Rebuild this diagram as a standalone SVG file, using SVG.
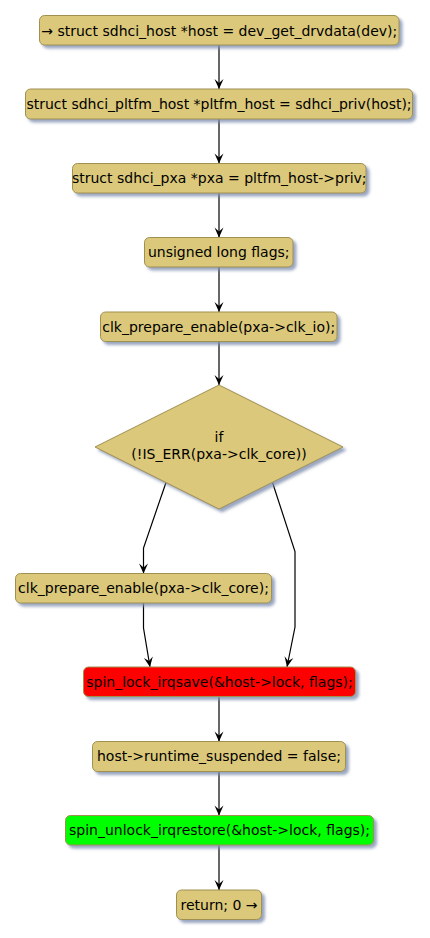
<svg xmlns="http://www.w3.org/2000/svg" width="430" height="938" viewBox="0 0 430 938">
<style>
.box{fill:#DBC87A;stroke:#A0904F;stroke-width:1;filter:url(#sh)}
.red{fill:#FF0000}
.green{fill:#00FF00}
.t{font-family:"DejaVu Sans",sans-serif;font-size:14px;fill:#000;text-anchor:middle}
.ln{fill:none;stroke:#000;stroke-width:1.2}
</style>
<defs>
<filter id="sh" x="-10%" y="-30%" width="125%" height="170%">
<feGaussianBlur in="SourceAlpha" stdDeviation="1.5" result="b"/>
<feOffset in="b" dx="3" dy="3" result="o"/>
<feFlood flood-color="#8090B0" flood-opacity="0.8"/>
<feComposite in2="o" operator="in" result="s"/>
<feMerge><feMergeNode in="s"/><feMergeNode in="SourceGraphic"/></feMerge>
</filter>
<marker id="ah" markerUnits="userSpaceOnUse" markerWidth="12" markerHeight="12" viewBox="-11 -6 12 12" refX="0" refY="0" orient="auto">
<path d="M0,0 L-10,-4.5 L-6,0 L-10,4.5 Z" fill="#000"/>
</marker>
</defs>
<g id="connectors">
<line class="ln" x1="219" y1="45" x2="219" y2="89" marker-end="url(#ah)"/>
<line class="ln" x1="219" y1="119" x2="219" y2="163.5" marker-end="url(#ah)"/>
<line class="ln" x1="219" y1="193" x2="219" y2="237.5" marker-end="url(#ah)"/>
<line class="ln" x1="219" y1="267" x2="219" y2="312" marker-end="url(#ah)"/>
<line class="ln" x1="219" y1="341.5" x2="219" y2="385" marker-end="url(#ah)"/>
<polyline class="ln" points="166,482.5 143.5,548 143.5,573.5" marker-end="url(#ah)"/>
<polyline class="ln" points="272.5,482.5 295,551.5 295,627 287,667" marker-end="url(#ah)"/>
<polyline class="ln" points="143.5,603 143.5,628 150,667" marker-end="url(#ah)"/>
<line class="ln" x1="219" y1="696.5" x2="219" y2="741.5" marker-end="url(#ah)"/>
<line class="ln" x1="219" y1="771.5" x2="219" y2="815.5" marker-end="url(#ah)"/>
<line class="ln" x1="219" y1="845" x2="219" y2="890" marker-end="url(#ah)"/>
</g>
<g id="n1"><rect class="box" x="39.5" y="15.5" width="359.5" height="29.5" rx="5"/><text class="t" x="219.25" y="35.5">→ struct sdhci_host *host = dev_get_drvdata(dev);</text></g>
<g id="n2"><rect class="box" x="25.5" y="89" width="387" height="30" rx="5"/><text class="t" x="219" y="109">struct sdhci_pltfm_host *pltfm_host = sdhci_priv(host);</text></g>
<g id="n3"><rect class="box" x="72.5" y="163.5" width="293.5" height="29.5" rx="5"/><text class="t" x="219.25" y="183">struct sdhci_pxa *pxa = pltfm_host-&gt;priv;</text></g>
<g id="n4"><rect class="box" x="144.5" y="237.5" width="148.5" height="29.5" rx="5"/><text class="t" x="218.75" y="257">unsigned long flags;</text></g>
<g id="n5"><rect class="box" x="100.5" y="312" width="236.5" height="29.5" rx="5"/><text class="t" x="218.75" y="331.5">clk_prepare_enable(pxa-&gt;clk_io);</text></g>
<g id="n6"><polygon class="box" points="219,385 343,447 219,509 95,447"/><text class="t" x="219" y="442">if</text><text class="t" x="219" y="459">(!IS_ERR(pxa-&gt;clk_core))</text></g>
<g id="n7"><rect class="box" x="15.5" y="573.5" width="256" height="29.5" rx="5"/><text class="t" x="143.5" y="593">clk_prepare_enable(pxa-&gt;clk_core);</text></g>
<g id="n8"><rect class="box red" x="83.5" y="667" width="272" height="29.5" rx="5"/><text class="t" x="219.5" y="686.5">spin_lock_irqsave(&amp;host-&gt;lock, flags);</text></g>
<g id="n9"><rect class="box" x="92.5" y="741.5" width="253" height="30" rx="5"/><text class="t" x="219" y="761">host-&gt;runtime_suspended = false;</text></g>
<g id="n10"><rect class="box green" x="65.5" y="815.5" width="308" height="29.5" rx="5"/><text class="t" x="219.5" y="835">spin_unlock_irqrestore(&amp;host-&gt;lock, flags);</text></g>
<g id="n11"><rect class="box" x="176.5" y="890" width="85" height="29.5" rx="5"/><text class="t" x="219" y="910">return; 0 →</text></g>
</svg>
